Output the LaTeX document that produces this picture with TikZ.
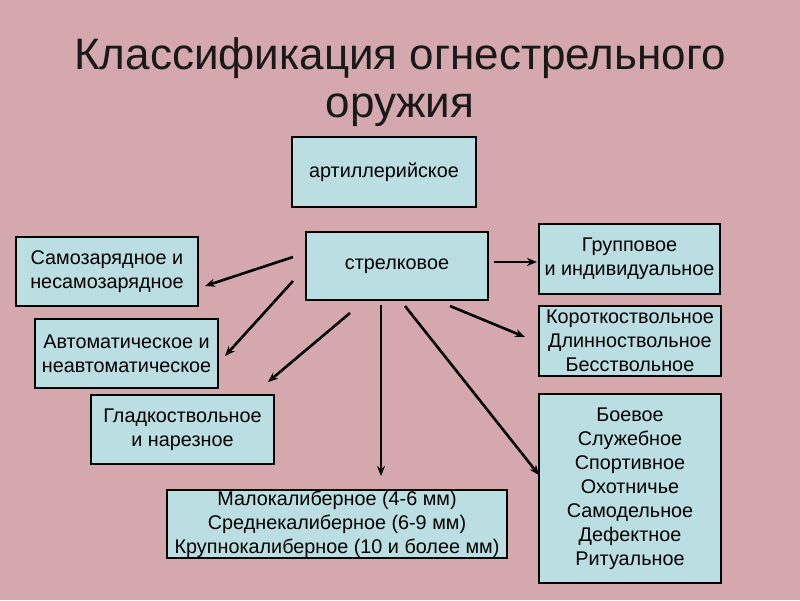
\documentclass[tikz,border=0pt]{standalone}
\usepackage{fontspec}
\setmainfont{Liberation Sans}
\usetikzlibrary{arrows.meta}
\definecolor{bgpink}{RGB}{212,168,173}
\definecolor{boxfill}{RGB}{186,222,226}
\tikzset{
  cbox/.style={draw=black, line width=1.1pt, fill=boxfill, inner sep=0pt, align=center,
    font=\fontsize{19.8}{24}\selectfont, text=black},
  arr/.style={line width=2.6pt, -{Stealth[length=10pt,width=8pt]}},
}
\begin{document}
\begin{tikzpicture}[x=1pt,y=-1pt]
\fill[bgpink] (0,0) rectangle (800,600);
\useasboundingbox (0,0) rectangle (800,600);
% title
\node[font=\fontsize{44}{48}\selectfont, align=center, text=black!90] (title) at (400,82)
  {Классификация огнестрельного\\оружия};
% boxes
\node[cbox, minimum width=184pt, minimum height=70pt] (art) at (384,172) {артиллерийское};
\node[cbox, minimum width=182pt, minimum height=68pt] (str) at (397,266) {стрелковое};
\node[cbox, minimum width=182pt, minimum height=69pt] (sam) at (107,271.5) {Самозарядное и\\несамозарядное};
\node[cbox, minimum width=183pt, minimum height=69pt] (avt) at (126.5,353.5) {Автоматическое и\\неавтоматическое};
\node[cbox, minimum width=183pt, minimum height=69pt] (gla) at (182.5,429.5) {Гладкоствольное\\и нарезное};
\node[cbox, minimum width=340pt, minimum height=68pt] (mal) at (337,524) {Малокалиберное (4-6 мм)\\Среднекалиберное (6-9 мм)\\Крупнокалиберное (10 и более мм)};
\node[cbox, minimum width=181pt, minimum height=70pt] (gru) at (629.5,259) {Групповое\\и индивидуальное};
\node[cbox, minimum width=182pt, minimum height=70pt] (kor) at (630,341) {Короткоствольное\\Длинноствольное\\Бесствольное};
\node[cbox, minimum width=182pt, minimum height=189pt] (boe) at (630,488.5) {Боевое\\Служебное\\Спортивное\\Охотничье\\Самодельное\\Дефектное\\Ритуальное};
% arrow end points
\coordinate (s1) at (293,257); \coordinate (e1) at (205,286);
\coordinate (s2) at (293,281); \coordinate (e2) at (225,356);
\coordinate (s3) at (350,313); \coordinate (e3) at (268,382);
\coordinate (s4) at (381,305); \coordinate (e4) at (381,476);
\coordinate (s5) at (405,306); \coordinate (e5) at (539,475);
\coordinate (s6) at (450,306); \coordinate (e6) at (525,337);
\coordinate (s7) at (494,262); \coordinate (e7) at (537,262);
\draw[arr] (s1) -- (e1);
\draw[arr] (s2) -- (e2);
\draw[arr] (s3) -- (e3);
\draw[arr] (s4) -- (e4);
\draw[arr] (s5) -- (e5);
\draw[arr] (s6) -- (e6);
\draw[arr] (s7) -- (e7);
\end{tikzpicture}
\end{document}
